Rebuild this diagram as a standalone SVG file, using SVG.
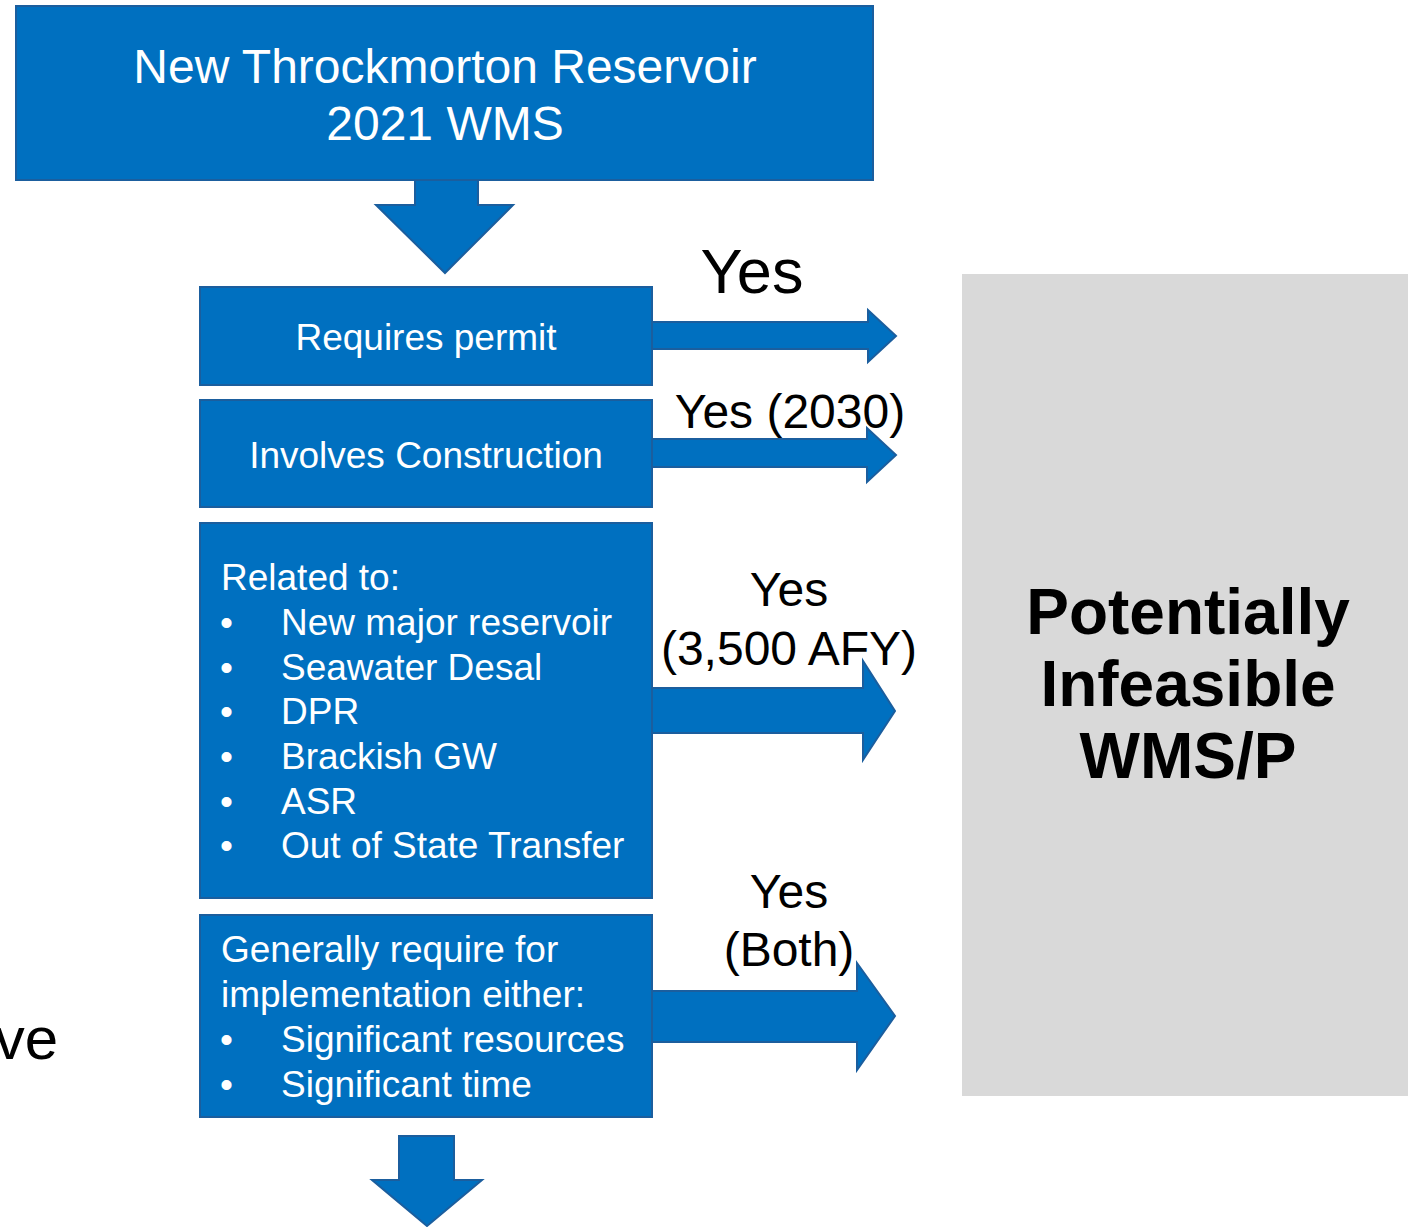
<svg xmlns="http://www.w3.org/2000/svg" width="1408" height="1227" viewBox="0 0 1408 1227">
<style>
.box{fill:#0070C0;stroke:#1B5E9E;stroke-width:2}
.arr{fill:#0070C0;stroke:#1B5E9E;stroke-width:2;stroke-linejoin:miter}
.wt{fill:#FFFFFF;font-family:"Liberation Sans",Arial,sans-serif}
.bk{fill:#000000;font-family:"Liberation Sans",Arial,sans-serif}
.lb{font-size:48px}
</style>
<rect width="1408" height="1227" fill="#FFFFFF"/>
<text class="bk" x="58" y="1059" font-size="60" text-anchor="end">ve</text>
<g id="connectors">
<polygon class="arr" points="415,180 478,180 478,205 513,205 445,273 376,205 415,205"/>
<polygon class="arr" points="651,322 868,322 868,310 896,336 868,362 868,349 651,349"/>
<polygon class="arr" points="651,439 867,439 867,428 896,455 867,482 867,467 651,467"/>
<polygon class="arr" points="651,688 863,688 863,661 895,711 863,760 863,733 651,733"/>
<polygon class="arr" points="651,991 857,991 857,963 895,1016 857,1070 857,1042 651,1042"/>
<polygon class="arr" points="399,1136 454,1136 454,1180 482,1180 427,1226 372,1180 399,1180"/>
<text class="bk" x="752" y="293" font-size="63" text-anchor="middle">Yes</text>
<text class="bk lb" x="790" y="428" text-anchor="middle">Yes (2030)</text>
<text class="bk lb" x="789" y="606" text-anchor="middle">Yes</text>
<text class="bk lb" x="789" y="665" text-anchor="middle">(3,500 AFY)</text>
<text class="bk lb" x="789" y="908" text-anchor="middle">Yes</text>
<text class="bk lb" x="789" y="966" text-anchor="middle">(Both)</text>
</g>
<g id="node-top">
<rect class="box" x="16" y="6" width="857" height="174"/>
<text class="wt" x="445" y="83" font-size="48" text-anchor="middle">New Throckmorton Reservoir</text>
<text class="wt" x="445" y="140" font-size="48" text-anchor="middle">2021 WMS</text>
</g>
<g id="node-permit">
<rect class="box" x="200" y="287" width="452" height="98"/>
<text class="wt" x="426" y="350" font-size="37" text-anchor="middle">Requires permit</text>
</g>
<g id="node-construction">
<rect class="box" x="200" y="400" width="452" height="107"/>
<text class="wt" x="426" y="468" font-size="37" text-anchor="middle">Involves Construction</text>
</g>
<g id="node-related">
<rect class="box" x="200" y="523" width="452" height="375"/>
<text class="wt" x="221" y="590" font-size="37">Related to:</text>
<text class="wt" x="220" y="635" font-size="37">•</text><text class="wt" x="281" y="635" font-size="37">New major reservoir</text>
<text class="wt" x="220" y="680" font-size="37">•</text><text class="wt" x="281" y="680" font-size="37">Seawater Desal</text>
<text class="wt" x="220" y="724" font-size="37">•</text><text class="wt" x="281" y="724" font-size="37">DPR</text>
<text class="wt" x="220" y="769" font-size="37">•</text><text class="wt" x="281" y="769" font-size="37">Brackish GW</text>
<text class="wt" x="220" y="814" font-size="37">•</text><text class="wt" x="281" y="814" font-size="37">ASR</text>
<text class="wt" x="220" y="858" font-size="37">•</text><text class="wt" x="281" y="858" font-size="37">Out of State Transfer</text>
</g>
<g id="node-generally">
<rect class="box" x="200" y="915" width="452" height="202"/>
<text class="wt" x="221" y="962" font-size="37">Generally require for</text>
<text class="wt" x="221" y="1007" font-size="37">implementation either:</text>
<text class="wt" x="220" y="1052" font-size="37">•</text><text class="wt" x="281" y="1052" font-size="37">Significant resources</text>
<text class="wt" x="220" y="1097" font-size="37">•</text><text class="wt" x="281" y="1097" font-size="37">Significant time</text>
</g>
<g id="node-infeasible">
<rect x="962" y="274" width="446" height="822" fill="#D9D9D9"/>
<text class="bk" x="1188" y="634" font-size="64" font-weight="bold" text-anchor="middle">Potentially</text>
<text class="bk" x="1188" y="706" font-size="64" font-weight="bold" text-anchor="middle">Infeasible</text>
<text class="bk" x="1188" y="778" font-size="64" font-weight="bold" text-anchor="middle">WMS/P</text>
</g>
</svg>
